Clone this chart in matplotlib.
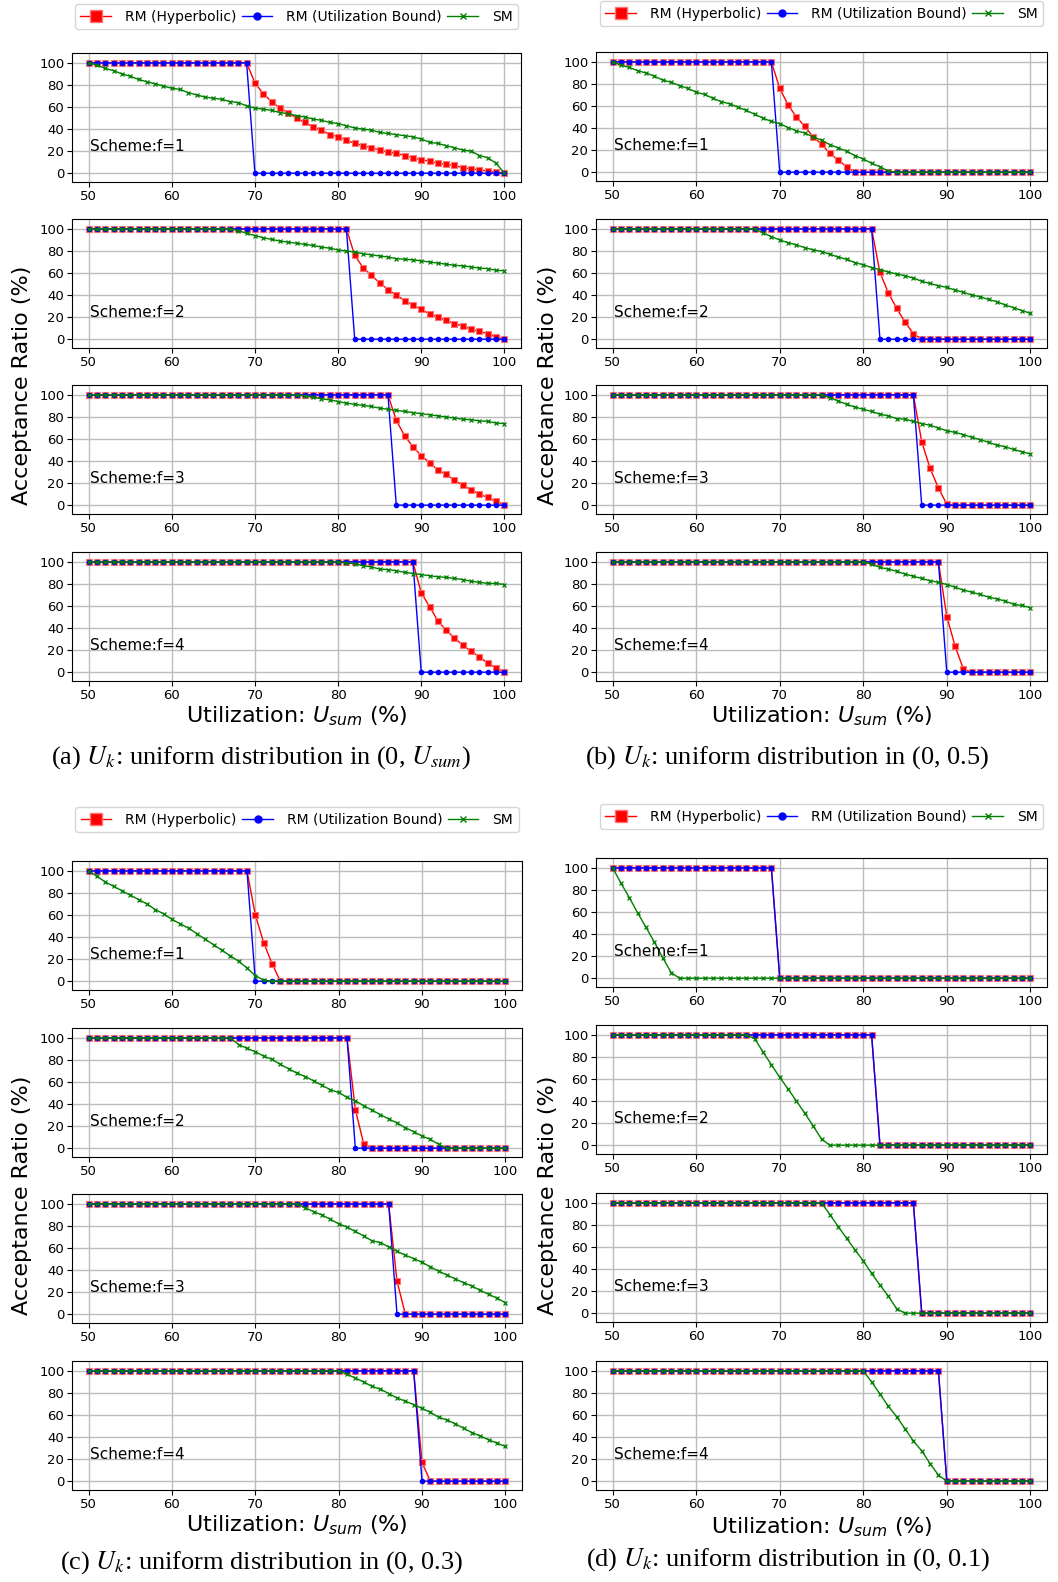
import matplotlib.pyplot as plt
from matplotlib.lines import Line2D

# x axis: total utilization U_sum (%)
usum = list(range(50, 101))

# RM (Utilization Bound), same in every panel, one list per scheme f
ub_f1 = [100, 100, 100, 100, 100, 100, 100, 100, 100, 100,
         100, 100, 100, 100, 100, 100, 100, 100, 100, 100,
         0, 0, 0, 0, 0, 0, 0, 0, 0, 0,
         0, 0, 0, 0, 0, 0, 0, 0, 0, 0,
         0, 0, 0, 0, 0, 0, 0, 0, 0, 0, 0]
ub_f2 = [100, 100, 100, 100, 100, 100, 100, 100, 100, 100,
         100, 100, 100, 100, 100, 100, 100, 100, 100, 100,
         100, 100, 100, 100, 100, 100, 100, 100, 100, 100,
         100, 100, 0, 0, 0, 0, 0, 0, 0, 0,
         0, 0, 0, 0, 0, 0, 0, 0, 0, 0, 0]
ub_f3 = [100, 100, 100, 100, 100, 100, 100, 100, 100, 100,
         100, 100, 100, 100, 100, 100, 100, 100, 100, 100,
         100, 100, 100, 100, 100, 100, 100, 100, 100, 100,
         100, 100, 100, 100, 100, 100, 100, 0, 0, 0,
         0, 0, 0, 0, 0, 0, 0, 0, 0, 0, 0]
ub_f4 = [100, 100, 100, 100, 100, 100, 100, 100, 100, 100,
         100, 100, 100, 100, 100, 100, 100, 100, 100, 100,
         100, 100, 100, 100, 100, 100, 100, 100, 100, 100,
         100, 100, 100, 100, 100, 100, 100, 100, 100, 100,
         0, 0, 0, 0, 0, 0, 0, 0, 0, 0, 0]

# (a) U_k uniform in (0, U_sum)
hyp_a1 = [100, 100, 100, 100, 100, 100, 100, 100, 100, 100,
          100, 100, 100, 100, 100, 100, 100, 100, 100, 100,
          82, 72, 65, 59, 55, 50, 46, 42, 39, 35,
          33, 30, 27, 25, 23, 21, 19, 18, 16, 14,
          12, 11, 9, 8, 7, 5, 4, 3, 2, 1, 0]
sm_a1 = [100, 98, 95, 93, 90, 88, 85, 83, 81, 79,
         77, 76, 73, 71, 69, 68, 67, 65, 64, 61,
         59, 58, 57, 55, 54, 52, 51, 49, 48, 46,
         45, 43, 41, 40, 39, 37, 36, 35, 34, 33,
         31, 28, 27, 25, 23, 21, 20, 16, 14, 9, 0]
hyp_a2 = [100, 100, 100, 100, 100, 100, 100, 100, 100, 100,
          100, 100, 100, 100, 100, 100, 100, 100, 100, 100,
          100, 100, 100, 100, 100, 100, 100, 100, 100, 100,
          100, 100, 76, 65, 58, 51, 45, 40, 35, 31,
          27, 23, 20, 17, 14, 12, 9, 7, 5, 2, 0]
sm_a2 = [100, 100, 100, 100, 100, 100, 100, 100, 100, 100,
         100, 100, 100, 100, 100, 100, 100, 100, 98.5, 96,
         94, 92, 90.5, 89, 88, 87, 86, 85, 83.5, 82.5,
         81, 80, 79, 77.5, 76.5, 75.5, 74.5, 73, 72.5, 72,
         71, 70, 69, 68, 67, 66.5, 65.5, 64.5, 64, 62.5, 62]
hyp_a3 = [100, 100, 100, 100, 100, 100, 100, 100, 100, 100,
          100, 100, 100, 100, 100, 100, 100, 100, 100, 100,
          100, 100, 100, 100, 100, 100, 100, 100, 100, 100,
          100, 100, 100, 100, 100, 100, 100, 77, 63, 53,
          45, 38.5, 32, 28, 22.5, 18, 14, 10, 7, 3.5, 0]
sm_a3 = [100, 100, 100, 100, 100, 100, 100, 100, 100, 100,
         100, 100, 100, 100, 100, 100, 100, 100, 100, 100,
         100, 100, 100, 100, 100, 100, 99, 98, 96.5, 95.5,
         94, 92.5, 91.5, 90.5, 89.5, 88, 87, 86, 85, 84,
         83, 82, 81, 80, 79, 78, 77.5, 76.5, 76, 74.5, 74]
hyp_a4 = [100, 100, 100, 100, 100, 100, 100, 100, 100, 100,
          100, 100, 100, 100, 100, 100, 100, 100, 100, 100,
          100, 100, 100, 100, 100, 100, 100, 100, 100, 100,
          100, 100, 100, 100, 100, 100, 100, 100, 100, 100,
          72, 59.5, 46.5, 38, 31, 24.5, 19, 14, 8, 4, 0]
sm_a4 = [100, 100, 100, 100, 100, 100, 100, 100, 100, 100,
         100, 100, 100, 100, 100, 100, 100, 100, 100, 100,
         100, 100, 100, 100, 100, 100, 100, 100, 100, 100,
         100, 99, 98.5, 96.5, 95.5, 93.5, 93, 92, 90.5, 89.5,
         88.5, 87.5, 86.5, 86, 85, 84, 82.5, 81.5, 80.5, 80.5, 79.5]

# (b) U_k uniform in (0, 0.5)
hyp_b1 = [100, 100, 100, 100, 100, 100, 100, 100, 100, 100,
          100, 100, 100, 100, 100, 100, 100, 100, 100, 100,
          76, 61, 50, 41.5, 32, 25.5, 17, 11, 5, 0,
          0, 0, 0, 0, 0, 0, 0, 0, 0, 0,
          0, 0, 0, 0, 0, 0, 0, 0, 0, 0, 0]
sm_b1 = [100, 97, 95, 92, 90, 87, 83.5, 81.5, 78.5, 76,
         72.5, 70.5, 67, 64, 62, 59, 56, 52.5, 49, 46,
         44, 40.5, 37.5, 35.5, 32, 29, 25, 22, 19, 15,
         12, 8, 5, 1, 0, 0, 0, 0, 0, 0,
         0, 0, 0, 0, 0, 0, 0, 0, 0, 0, 0]
hyp_b2 = [100, 100, 100, 100, 100, 100, 100, 100, 100, 100,
          100, 100, 100, 100, 100, 100, 100, 100, 100, 100,
          100, 100, 100, 100, 100, 100, 100, 100, 100, 100,
          100, 100, 60.5, 42, 28, 15.5, 5, 0, 0, 0,
          0, 0, 0, 0, 0, 0, 0, 0, 0, 0, 0]
sm_b2 = [100, 100, 100, 100, 100, 100, 100, 100, 100, 100,
         100, 100, 100, 100, 100, 100, 100, 100, 96.5, 93,
         90, 87.5, 85.5, 83, 81, 79.5, 77, 74.5, 72.5, 69.5,
         67.5, 65, 63, 61, 59, 57.5, 55.5, 52.5, 50.5, 48.5,
         47, 44.5, 42.5, 40, 38.5, 36, 34, 31, 28.5, 26, 23.5]
hyp_b3 = [100, 100, 100, 100, 100, 100, 100, 100, 100, 100,
          100, 100, 100, 100, 100, 100, 100, 100, 100, 100,
          100, 100, 100, 100, 100, 100, 100, 100, 100, 100,
          100, 100, 100, 100, 100, 100, 100, 57.5, 33.5, 15.5,
          1, 0, 0, 0, 0, 0, 0, 0, 0, 0, 0]
sm_b3 = [100, 100, 100, 100, 100, 100, 100, 100, 100, 100,
         100, 100, 100, 100, 100, 100, 100, 100, 100, 100,
         100, 100, 100, 100, 100, 100, 97.5, 94.5, 91.5, 89,
         87, 85, 82.5, 81, 78.5, 78, 76, 74, 72.5, 70,
         67.5, 66, 64, 61.5, 59.5, 57, 54.5, 53, 50.5, 48.5, 46.5]
hyp_b4 = [100, 100, 100, 100, 100, 100, 100, 100, 100, 100,
          100, 100, 100, 100, 100, 100, 100, 100, 100, 100,
          100, 100, 100, 100, 100, 100, 100, 100, 100, 100,
          100, 100, 100, 100, 100, 100, 100, 100, 100, 100,
          50.5, 23.5, 2.5, 0, 0, 0, 0, 0, 0, 0, 0]
sm_b4 = [100, 100, 100, 100, 100, 100, 100, 100, 100, 100,
         100, 100, 100, 100, 100, 100, 100, 100, 100, 100,
         100, 100, 100, 100, 100, 100, 100, 100, 100, 100,
         100, 98, 95, 93.5, 91.5, 89, 87, 85, 83, 81.5,
         79.5, 77, 74.5, 72.5, 70.5, 68, 66.5, 64.5, 61.5, 60.5, 58.5]

# (c) U_k uniform in (0, 0.3)
hyp_c1 = [100, 100, 100, 100, 100, 100, 100, 100, 100, 100,
          100, 100, 100, 100, 100, 100, 100, 100, 100, 100,
          60, 35, 16, 0, 0, 0, 0, 0, 0, 0,
          0, 0, 0, 0, 0, 0, 0, 0, 0, 0,
          0, 0, 0, 0, 0, 0, 0, 0, 0, 0, 0]
sm_c1 = [100, 95, 90, 86, 82, 78, 74, 70, 65, 61,
         56, 52, 48, 43, 38, 33, 28, 23, 18, 12,
         5, 1, 0, 0, 0, 0, 0, 0, 0, 0,
         0, 0, 0, 0, 0, 0, 0, 0, 0, 0,
         0, 0, 0, 0, 0, 0, 0, 0, 0, 0, 0]
hyp_c2 = [100, 100, 100, 100, 100, 100, 100, 100, 100, 100,
          100, 100, 100, 100, 100, 100, 100, 100, 100, 100,
          100, 100, 100, 100, 100, 100, 100, 100, 100, 100,
          100, 100, 35, 4, 0, 0, 0, 0, 0, 0,
          0, 0, 0, 0, 0, 0, 0, 0, 0, 0, 0]
sm_c2 = [100, 100, 100, 100, 100, 100, 100, 100, 100, 100,
         100, 100, 100, 100, 100, 100, 100, 100, 94, 90.5,
         87.5, 83.5, 80.5, 76, 72, 68, 65, 61, 57, 53,
         50.5, 46, 43, 38.5, 34.5, 30.5, 26.5, 23, 18.5, 15,
         11, 8, 3.5, 0, 0, 0, 0, 0, 0, 0, 0]
hyp_c3 = [100, 100, 100, 100, 100, 100, 100, 100, 100, 100,
          100, 100, 100, 100, 100, 100, 100, 100, 100, 100,
          100, 100, 100, 100, 100, 100, 100, 100, 100, 100,
          100, 100, 100, 100, 100, 100, 100, 30, 0, 0,
          0, 0, 0, 0, 0, 0, 0, 0, 0, 0, 0]
sm_c3 = [100, 100, 100, 100, 100, 100, 100, 100, 100, 100,
         100, 100, 100, 100, 100, 100, 100, 100, 100, 100,
         100, 100, 100, 100, 100, 100, 96.5, 93, 90, 86,
         82, 79, 75, 71, 66.5, 65, 61, 57, 53.5, 50.5,
         47, 43, 39, 35.5, 32, 28.5, 25.5, 21.5, 18, 14.5, 10.5]
hyp_c4 = [100, 100, 100, 100, 100, 100, 100, 100, 100, 100,
          100, 100, 100, 100, 100, 100, 100, 100, 100, 100,
          100, 100, 100, 100, 100, 100, 100, 100, 100, 100,
          100, 100, 100, 100, 100, 100, 100, 100, 100, 100,
          17, 0, 0, 0, 0, 0, 0, 0, 0, 0, 0]
sm_c4 = [100, 100, 100, 100, 100, 100, 100, 100, 100, 100,
         100, 100, 100, 100, 100, 100, 100, 100, 100, 100,
         100, 100, 100, 100, 100, 100, 100, 100, 100, 100,
         100, 97, 93.5, 90, 86, 83.5, 79.5, 75.5, 72.5, 69.5,
         66, 62.5, 58, 55.5, 52, 48, 44, 41, 37.5, 34.5, 31.5]

# (d) U_k uniform in (0, 0.1): hyperbolic equals the utilization bound here
sm_d1 = [100, 86, 73, 59, 46, 32.5, 18.5, 5, 0, 0,
         0, 0, 0, 0, 0, 0, 0, 0, 0, 0,
         0, 0, 0, 0, 0, 0, 0, 0, 0, 0,
         0, 0, 0, 0, 0, 0, 0, 0, 0, 0,
         0, 0, 0, 0, 0, 0, 0, 0, 0, 0, 0]
sm_d2 = [100, 100, 100, 100, 100, 100, 100, 100, 100, 100,
         100, 100, 100, 100, 100, 100, 100, 96.5, 84.5, 73,
         61.5, 51, 40, 29, 17.5, 5.5, 0, 0, 0, 0,
         0, 0, 0, 0, 0, 0, 0, 0, 0, 0,
         0, 0, 0, 0, 0, 0, 0, 0, 0, 0, 0]
sm_d3 = [100, 100, 100, 100, 100, 100, 100, 100, 100, 100,
         100, 100, 100, 100, 100, 100, 100, 100, 100, 100,
         100, 100, 100, 100, 100, 100, 89.5, 78.5, 68, 57.5,
         47.5, 36, 25.5, 15.5, 4, 0, 0, 0, 0, 0,
         0, 0, 0, 0, 0, 0, 0, 0, 0, 0, 0]
sm_d4 = [100, 100, 100, 100, 100, 100, 100, 100, 100, 100,
         100, 100, 100, 100, 100, 100, 100, 100, 100, 100,
         100, 100, 100, 100, 100, 100, 100, 100, 100, 100,
         100, 90, 79, 68, 58.5, 47.5, 36.5, 27.5, 16, 5.5,
         0, 0, 0, 0, 0, 0, 0, 0, 0, 0, 0]

ub_all = [ub_f1, ub_f2, ub_f3, ub_f4]
hyp = {"a": [hyp_a1, hyp_a2, hyp_a3, hyp_a4],
       "b": [hyp_b1, hyp_b2, hyp_b3, hyp_b4],
       "c": [hyp_c1, hyp_c2, hyp_c3, hyp_c4],
       "d": [ub_f1, ub_f2, ub_f3, ub_f4]}
sm = {"a": [sm_a1, sm_a2, sm_a3, sm_a4],
      "b": [sm_b1, sm_b2, sm_b3, sm_b4],
      "c": [sm_c1, sm_c2, sm_c3, sm_c4],
      "d": [sm_d1, sm_d2, sm_d3, sm_d4]}
captions = {"a": r"(a) $U_k$: uniform distribution in (0, $U_{sum}$)",
            "b": r"(b) $U_k$: uniform distribution in (0, 0.5)",
            "c": r"(c) $U_k$: uniform distribution in (0, 0.3)",
            "d": r"(d) $U_k$: uniform distribution in (0, 0.1)"}

W, H = 1058, 1582
fig = plt.figure(figsize=(W / 100, H / 100), dpi=100)


def fx(x):
    return x / W


def fy(y):
    return 1 - y / H


# layout in pixels: left, right, row tops, legend top, ylabel xy, xlabel y, caption xy
layout = {
    "a": dict(l=72, r=521, tops=[53, 219, 385, 552], leg=4, yl=(22, 385), xl=716, cap=(261, 758)),
    "b": dict(l=596, r=1047, tops=[52, 219, 385, 552], leg=1, yl=(548, 385), xl=716, cap=(787, 758)),
    "c": dict(l=72, r=522, tops=[861, 1028, 1194, 1361], leg=807, yl=(22, 1195), xl=1525, cap=(261, 1563)),
    "d": dict(l=596, r=1047, tops=[858, 1025, 1193, 1361], leg=804, yl=(548, 1195), xl=1527, cap=(788, 1560)),
}
ax_h = 129

for key, p in layout.items():
    for i in range(4):
        top = p["tops"][i]
        ax = fig.add_axes([fx(p["l"]), fy(top + ax_h), fx(p["r"] - p["l"]), ax_h / H])
        ax.plot(usum, hyp[key][i], color="red", marker="s", ms=4.5, lw=1,
                mec=(1, 0.45, 0.45), mew=0.8)
        ax.plot(usum, ub_all[i], color="blue", marker="o", ms=3, lw=1)
        ax.plot(usum, sm[key][i], color="green", marker="x", ms=3, lw=1, mew=0.9)
        ax.set_xlim(48, 102)
        ax.set_ylim(-8, 109)
        ax.set_xticks([50, 60, 70, 80, 90, 100])
        ax.set_yticks([0, 20, 40, 60, 80, 100])
        ax.tick_params(labelsize=9.5, pad=2)
        ax.grid(True, color="#bdbdbd", lw=1)
        ax.set_axisbelow(True)
        ax.text(50.2, 20, "Scheme:f=%d" % (i + 1), fontsize=11)

    cx = (p["l"] + p["r"]) / 2
    handles = [
        Line2D([], [], color="red", marker="s", ms=8, lw=1, mec=(1, 0.45, 0.45)),
        Line2D([], [], color="blue", marker="o", ms=5, lw=1),
        Line2D([], [], color="green", marker="x", ms=5, lw=1),
    ]
    fig.legend(handles, ["RM (Hyperbolic)", "RM (Utilization Bound)", "SM"],
               loc="upper center", bbox_to_anchor=(fx(cx), fy(p["leg"])), ncol=3,
               fontsize=10, columnspacing=0.4, handlelength=2.2, handletextpad=1.0,
               borderpad=0.4, borderaxespad=0)

    fig.text(fx(p["yl"][0]), fy(p["yl"][1]), "Acceptance Ratio (%)", rotation=90,
             ha="center", va="center", fontsize=16)
    fig.text(fx(cx), fy(p["xl"]), r"Utilization: $U_{sum}$ (%)", ha="center",
             va="center", fontsize=16)
    fig.text(fx(p["cap"][0]), fy(p["cap"][1]), captions[key], ha="center", va="center",
             fontsize=19, family="Liberation Serif", math_fontfamily="stix")

fig.savefig("out.png", dpi=100)
